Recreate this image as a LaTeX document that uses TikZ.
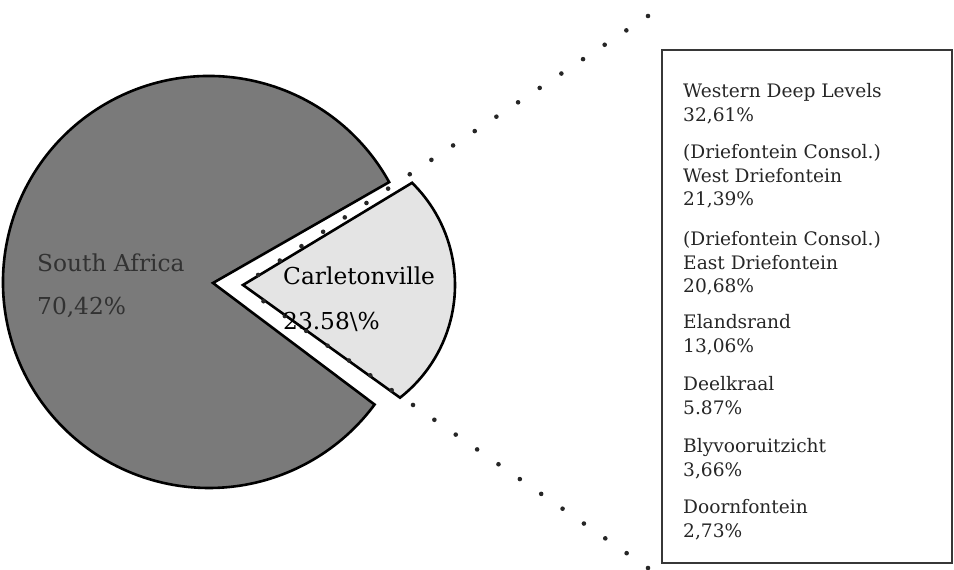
\documentclass[tikz,border=0pt]{standalone}
\usepackage{fontspec}
\setmainfont{DejaVu Serif}
\usetikzlibrary{calc}
\definecolor{piedark}{RGB}{122,122,122}
\definecolor{pielight}{RGB}{228,228,228}
\definecolor{labeldark}{RGB}{50,50,50}
\definecolor{boxline}{RGB}{55,55,55}
\begin{document}
\begin{tikzpicture}[x=1pt,y=1pt,
  wedge/.style={draw=black, line width=2.6pt, line join=miter},
  dotline/.style={draw=black!85, line width=4.6pt, line cap=round, dash pattern=on 0pt off 26pt},
  pielabel/.style={anchor=base west, inner sep=0pt, font=\fontsize{23.3}{27}\selectfont},
  listline/.style={anchor=base west, inner sep=0pt, font=\fontsize{18.6}{22}\selectfont, text=black!85}]
\useasboundingbox (0,0) rectangle (954,570);
% main pie
\coordinate (apexA) at (213,287);
\coordinate (cen) at (209,288);
\fill[piedark] (apexA) -- ($(cen)+(29:206)$) arc (29:323.5:206) -- cycle;
\draw[wedge] (apexA) -- ($(cen)+(29:206)$) arc (29:323.5:206) -- cycle;
% Carletonville wedge
\coordinate (apexB) at (243,285);
\coordinate (cc) at (312,285);
\filldraw[wedge, fill=pielight] (apexB) -- ($(cc)+(45.6:143)$) arc (45.6:-52:143) -- cycle;
% dotted connectors
\coordinate (du0) at (240,283);
\coordinate (du1) at (648,554);
\coordinate (dl0) at (243,283);
\coordinate (dl1) at (648,2);
\draw[dotline] (du1) -- (du0);
\draw[dotline] (dl1) -- (dl0);
% labels in pie
\node[pielabel, text=labeldark] (sa) at (37,298) {South Africa};
\node[pielabel, text=labeldark] (sap) at (37,255) {70,42\%};
\node[pielabel] (ca) at (283,285) {Carletonville};
\node[pielabel] (cap) at (283,240) {23.58\textbackslash\%};
% box
\node[draw=boxline, line width=2pt, minimum width=290pt, minimum height=513pt, inner sep=0pt] (box) at (807,263.5) {};
% list
\node[listline] (l1) at (683,472) {Western Deep Levels};
\node[listline] (l2) at (683,448.5) {32,61\%};
\node[listline] (l3) at (683,411) {(Driefontein Consol.)};
\node[listline] (l4) at (683,387.5) {West Driefontein};
\node[listline] (l5) at (683,364) {21,39\%};
\node[listline] (l6) at (683,324) {(Driefontein Consol.)};
\node[listline] (l7) at (683,300.5) {East Driefontein};
\node[listline] (l8) at (683,277) {20,68\%};
\node[listline] (l9) at (683,241) {Elandsrand};
\node[listline] (l10) at (683,217.5) {13,06\%};
\node[listline] (l11) at (683,179) {Deelkraal};
\node[listline] (l12) at (683,155.5) {5.87\%};
\node[listline] (l13) at (683,117) {Blyvooruitzicht};
\node[listline] (l14) at (683,93.5) {3,66\%};
\node[listline] (l15) at (683,56) {Doornfontein};
\node[listline] (l16) at (683,32.5) {2,73\%};
\end{tikzpicture}
\end{document}
